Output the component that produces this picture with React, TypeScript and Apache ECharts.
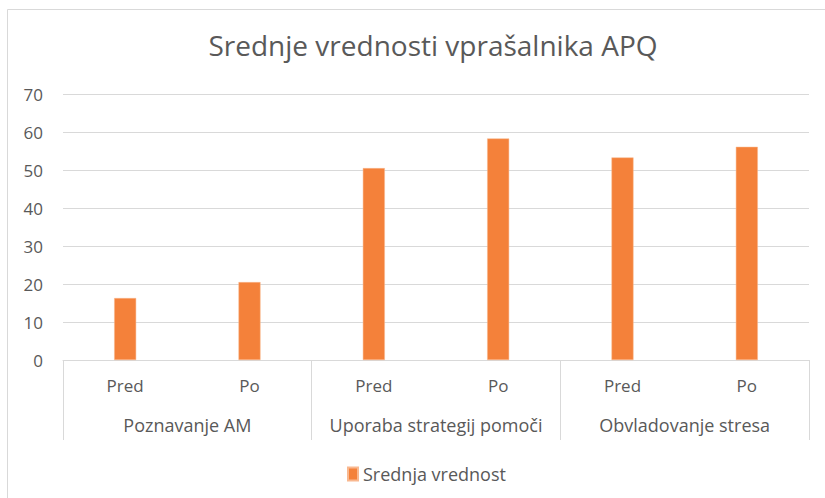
import React, { useEffect, useRef } from "react";
import * as echarts from "echarts";

const titleText = "Srednje vrednosti vprašalnika APQ";
const seriesName = "Srednja vrednost";
const groups = ["Poznavanje AM", "Uporaba strategij pomoči", "Obvladovanje stresa"];
const subCategories = ["Pred", "Po", "Pred", "Po", "Pred", "Po"];
const values = [16.3, 20.5, 50.5, 58.3, 53.3, 56.1];
const yTicks = { min: 0, max: 70, interval: 10 };

const TEXT = "#595959";
const GRIDC = "#d9d9d9";
const FONT = "'Open Sans', 'Noto Sans', sans-serif";

export default function App() {
  const ref = useRef<HTMLDivElement>(null);
  useEffect(() => {
    if (!ref.current) return;
    const chart = echarts.init(ref.current, null, { renderer: "svg" });
    chart.setOption({
      animation: false,
      textStyle: { fontFamily: FONT },
      title: {
        text: titleText,
        left: 428,
        textAlign: "center",
        top: 26,
        textStyle: { fontFamily: FONT, fontSize: 28, fontWeight: "normal", color: TEXT },
      },
      graphic: [
        {
          type: "rect",
          shape: { x: 7.5, y: 9.5, width: 840, height: 520 },
          style: { fill: "none", stroke: GRIDC, lineWidth: 1 },
          silent: true,
        },
      ],
      legend: {
        top: 460,
        left: 342,
        icon: "rect",
        itemWidth: 10,
        itemHeight: 13,
        itemGap: 10,
        textStyle: { fontFamily: FONT, fontSize: 18, color: TEXT },
        data: [seriesName],
      },
      grid: { left: 63, right: 16, top: 94, bottom: 138, containLabel: false },
      xAxis: [
        {
          type: "category",
          data: subCategories,
          position: "bottom",
          axisLine: { show: true, lineStyle: { color: GRIDC, width: 1 } },
          axisTick: { show: false },
          axisLabel: { interval: 0, margin: 17, fontFamily: FONT, fontSize: 17, color: TEXT },
        },
        {
          type: "category",
          data: groups,
          position: "bottom",
          axisLine: { show: false },
          axisTick: { show: true, interval: 0, length: 80, lineStyle: { color: GRIDC, width: 1 } },
          axisLabel: {
            interval: 0,
            hideOverlap: false,
            margin: 56,
            fontFamily: FONT,
            fontSize: 18,
            color: TEXT,
          },
        },
      ],
      yAxis: {
        type: "value",
        min: yTicks.min,
        max: yTicks.max,
        interval: yTicks.interval,
        axisLine: { show: false },
        axisTick: { show: false },
        splitLine: { lineStyle: { color: GRIDC, width: 1 } },
        axisLabel: { margin: 20, fontFamily: FONT, fontSize: 17, color: TEXT },
      },
      series: [
        {
          name: seriesName,
          type: "bar",
          xAxisIndex: 0,
          data: values,
          barWidth: 22,
          itemStyle: { color: "#f4813a", borderColor: "#f9b88f", borderWidth: 0.5 },
        },
      ],
    });
    return () => chart.dispose();
  }, []);
  return (
    <div
      ref={ref}
      style={{ position: "fixed", left: 0, top: 0, width: 825, height: 498, background: "#fff" }}
    />
  );
}
